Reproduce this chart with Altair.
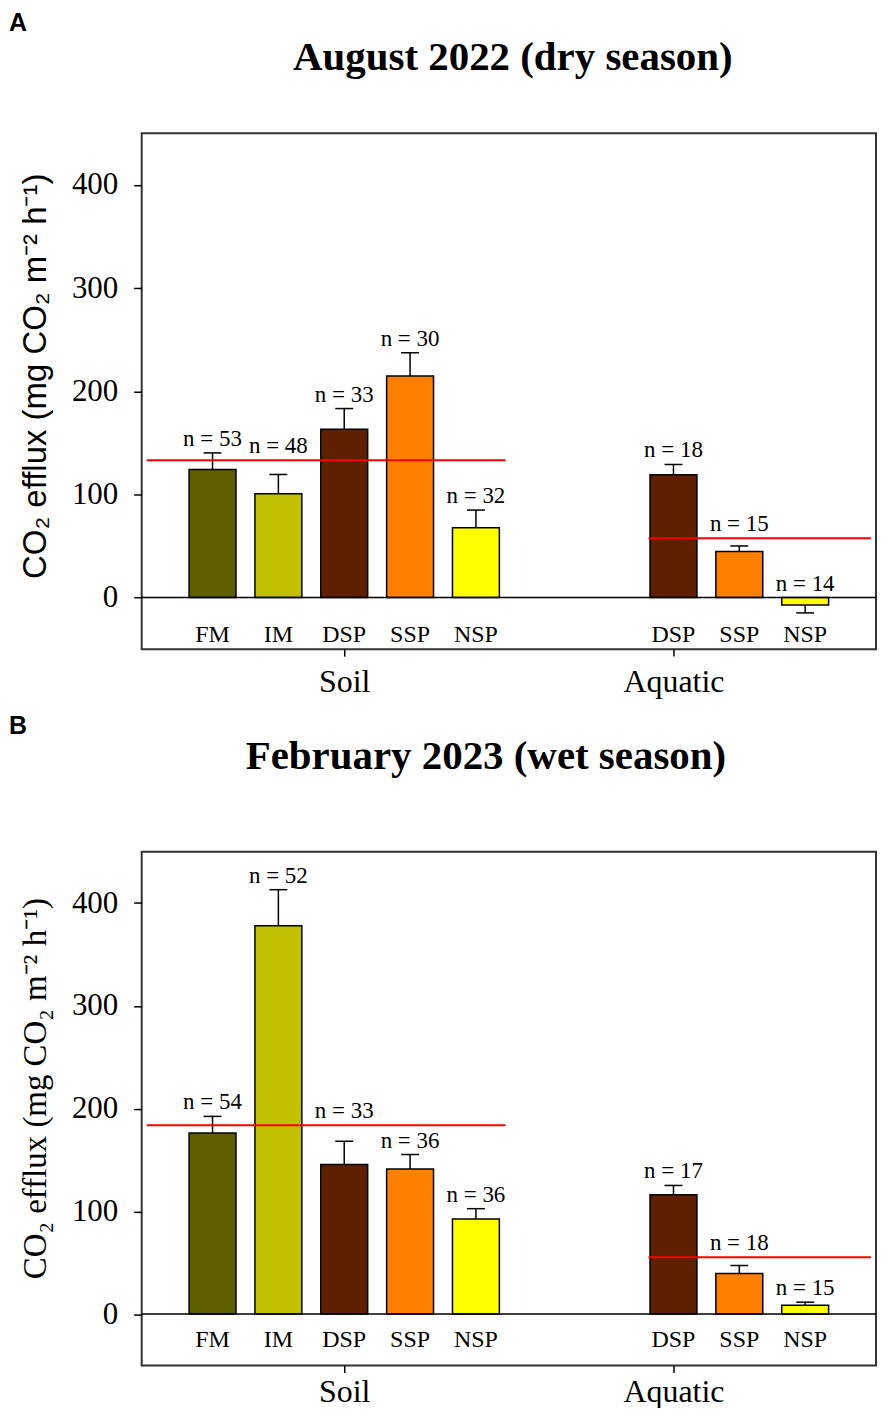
import altair as alt
import pandas as pd

# ---------------- data ----------------
soil_cats = ["FM", "IM", "DSP", "SSP", "NSP"]
aquatic_cats = ["DSP", "SSP", "NSP"]
cat_colors = ["#5f5f00", "#c0c000", "#5f2000", "#ff8000", "#ffff00"]
color_cats = ["FM", "IM", "DSP", "SSP", "NSP"]
group_labels = ["Soil", "Aquatic"]

# August 2022 (dry season)
aug_soil_mean = [124.2, 100.6, 163.2, 214.7, 67.7]
aug_soil_se = [16.0, 18.7, 20.0, 22.6, 17.1]
aug_soil_n = [53, 48, 33, 30, 32]
aug_aq_mean = [119.0, 44.6, -7.2]
aug_aq_se = [10.0, 5.4, 7.7]
aug_aq_n = [18, 15, 14]
aug_group_means = [133.2, 57.5]

# February 2023 (wet season)
feb_soil_mean = [176.3, 377.9, 145.6, 141.1, 92.5]
feb_soil_se = [16.1, 35.1, 22.6, 14.2, 10.1]
feb_soil_n = [54, 52, 33, 36, 36]
feb_aq_mean = [116.2, 39.6, 8.7]
feb_aq_se = [9.0, 7.7, 2.9]
feb_aq_n = [17, 18, 15]
feb_group_means = [183.7, 55.4]

YTITLE = "CO\u2082 efflux (mg CO\u2082 m\u207b\u00b2 h\u207b\u00b9)"
SERIF = "Liberation Serif"
SANS = "Liberation Sans"

GAP = 2          # empty slots between the soil and aquatic groups
W = 736


def build_df(sm, sse, sn, am, ase, an, group_means):
    rows = []
    for i, c in enumerate(soil_cats):
        rows.append(dict(cat=c, group="Soil", slot=i, mean=sm[i], se=sse[i], n=sn[i],
                         line=group_means[0]))
    base = len(soil_cats) + GAP
    for i, c in enumerate(aquatic_cats):
        rows.append(dict(cat=c, group="Aquatic", slot=base + i, mean=am[i], se=ase[i], n=an[i],
                         line=group_means[1]))
    df = pd.DataFrame(rows)
    df["end"] = [m + (s if m >= 0 else -s) for m, s in zip(df["mean"], df["se"])]
    # n label sits above the error bar, lifted above the group mean line when they would collide
    la = []
    for e, ln in zip(df["end"], df["line"]):
        a = max(e, 0)
        if a - 3 <= ln <= a + 26:
            a = ln
        la.append(a)
    df["label_at"] = la
    df["cap_l"] = df["slot"] - 0.136
    df["cap_r"] = df["slot"] + 0.136
    df["ntext"] = ["n = %d" % v for v in df["n"]]
    return df


def panel(df, group_means, title, letter, height, ytitle_font, title_dx,
          title_base, letter_base, cat_label_y, ytitle_y, xlab_pad):
    n_soil = len(soil_cats)
    first_aq = n_soil + GAP
    lines = pd.DataFrame({
        "start": [-1, first_aq - 0.38],
        "end": [n_soil - 1 + 0.45, 10],
        "level": group_means,
    })
    xscale = alt.Scale(domain=[-1, 10], nice=False, zero=False)
    yscale = alt.Scale(domain=[-50, 450], nice=False, zero=False)
    xaxis = alt.Axis(values=[(n_soil - 1) / 2, first_aq],
                     labelExpr="datum.value < 5 ? '%s' : '%s'" % tuple(group_labels),
                     labelFont=SERIF, labelFontSize=32, labelColor="black",
                     labelPadding=xlab_pad, labelAngle=0, tickSize=7, tickWidth=1.5,
                     tickColor="black", domain=False, grid=False, title=None)
    yaxis = alt.Axis(values=[0, 100, 200, 300, 400], title=YTITLE,
                     titleFont=ytitle_font, titleFontSize=33, titleFontWeight="normal",
                     titleColor="black", titleAngle=270, titleX=-96, titleY=ytitle_y,
                     titleBaseline="alphabetic", titleAlign="center",
                     labelFont=SERIF, labelFontSize=31, labelColor="black",
                     labelPadding=16, tickSize=8, tickWidth=1.5, tickColor="black",
                     domain=False, grid=False)
    X = lambda f: alt.X(f, scale=xscale, axis=xaxis)
    Y = lambda f: alt.Y(f, scale=yscale, axis=yaxis)

    base = alt.Chart(df)
    bars = base.mark_bar(size=47, stroke="black", strokeWidth=1.5).encode(
        x=X("slot:Q"), y=Y("mean:Q"),
        color=alt.Color("cat:N", scale=alt.Scale(domain=color_cats, range=cat_colors), legend=None),
    )
    stems = base.mark_rule(color="black", strokeWidth=1.5).encode(
        x=X("slot:Q"), y=Y("mean:Q"), y2="end:Q")
    caps = base.mark_rule(color="black", strokeWidth=1.5).encode(
        x=X("cap_l:Q"), x2="cap_r:Q", y=Y("end:Q"))
    zero = alt.Chart(pd.DataFrame({"zero": [0]})).mark_rule(color="black", strokeWidth=1.5).encode(
        y=Y("zero:Q"))
    means = alt.Chart(lines).mark_rule(color="#ff0000", strokeWidth=2).encode(
        x=X("start:Q"), x2="end:Q", y=Y("level:Q"))
    nlab = base.mark_text(font=SERIF, fontSize=23, color="black", baseline="alphabetic", dy=-7).encode(
        x=X("slot:Q"), y=Y("label_at:Q"), text="ntext:N")
    clab = base.mark_text(font=SERIF, fontSize=24, color="black", baseline="alphabetic").encode(
        x=X("slot:Q"), y=alt.value(cat_label_y), text="cat:N")
    ttl = alt.Chart(pd.DataFrame({"t": [title]})).mark_text(
        font=SERIF, fontSize=41, fontWeight="bold", color="black", baseline="alphabetic",
        align="center").encode(x=alt.value(W / 2 + title_dx), y=alt.value(title_base), text="t:N")
    let = alt.Chart(pd.DataFrame({"t": [letter]})).mark_text(
        font=SANS, fontSize=25, fontWeight="bold", color="black", baseline="alphabetic",
        align="left").encode(x=alt.value(-133), y=alt.value(letter_base), text="t:N")
    return alt.layer(bars, stems, caps, zero, means, nlab, clab, ttl, let).properties(
        width=W, height=height)


dfA = build_df(aug_soil_mean, aug_soil_se, aug_soil_n, aug_aq_mean, aug_aq_se, aug_aq_n,
               aug_group_means)
dfB = build_df(feb_soil_mean, feb_soil_se, feb_soil_n, feb_aq_mean, feb_aq_se, feb_aq_n,
               feb_group_means)

pA = panel(dfA, aug_group_means, "August 2022 (dry season)", "A", 517, SANS, 4,
           -63, -103, 510, 243, 10)
pB = panel(dfB, feb_group_means, "February 2023 (wet season)", "B", 515, SERIF, -23,
           -83, -118, 496, 237, 4)

chart = alt.vconcat(pA, pB, spacing=203, bounds="flush").properties(
    padding={"left": 0, "top": 0, "right": 0, "bottom": -2}
).configure_view(stroke="#333333", strokeWidth=2)

chart.save("out.html", embed_options={"renderer": "svg", "actions": False})
